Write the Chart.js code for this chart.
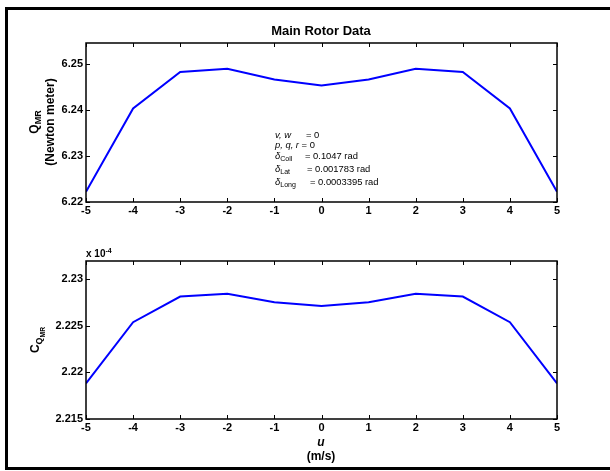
<!DOCTYPE html>
<html>
<head>
<meta charset="utf-8">
<script src="https://cdn.jsdelivr.net/npm/chart.js@4.4.1/dist/chart.umd.min.js"></script>
<style>
body{margin:0;background:#fff;width:610px;height:471px;overflow:hidden;position:relative;font-family:"Liberation Sans",Arial,sans-serif;}
#frame{position:absolute;left:5px;top:7px;width:620px;height:457px;border:3px solid #000;}
canvas{position:absolute;left:0;}
.txt{position:absolute;white-space:nowrap;color:#000;line-height:1;}
.c{transform:translate(-50%,-50%);}
.rot{transform:translate(-50%,-50%) rotate(-90deg);}
.b{font-weight:bold;}
.note{font-size:9.4px;line-height:1;}
sub{font-size:75%;vertical-align:-0.35em;line-height:0;}
sup{font-size:70%;vertical-align:0.6em;line-height:0;}
</style>
</head>
<body>
<div id="frame"></div>
<canvas id="top_chart" width="610" height="230" style="top:0px"></canvas>
<canvas id="bottom_chart" width="610" height="231" style="top:240px"></canvas>

<div class="txt c b" style="left:321px;top:30px;font-size:13px">Main Rotor Data</div>
<div class="txt rot b" style="left:34px;top:122px;font-size:12px">Q<sub>MR</sub></div>
<div class="txt rot b" style="left:50px;top:122px;font-size:12px">(Newton meter)</div>
<div class="txt rot b" style="left:36px;top:340px;font-size:12px">C<sub>Q<sub>MR</sub></sub></div>
<div class="txt b" style="left:86px;top:249px;font-size:10px">x 10<sup>-4</sup></div>
<div class="txt c b" style="left:321px;top:442px;font-size:12px"><i>u</i></div>
<div class="txt c b" style="left:321px;top:456px;font-size:12px">(m/s)</div>

<div class="txt note" style="left:275px;top:130px"><i>v, w</i></div>
<div class="txt note" style="left:306px;top:130px">= 0</div>
<div class="txt note" style="left:275px;top:140px"><i>p, q, r</i> = 0</div>
<div class="txt note" style="left:275px;top:151px"><i>&delta;</i><sub>Coll</sub></div>
<div class="txt note" style="left:305px;top:151px">= 0.1047 rad</div>
<div class="txt note" style="left:275px;top:164px"><i>&delta;</i><sub>Lat</sub></div>
<div class="txt note" style="left:307px;top:164px">= 0.001783 rad</div>
<div class="txt note" style="left:275px;top:177px"><i>&delta;</i><sub>Long</sub></div>
<div class="txt note" style="left:310px;top:177px">= 0.0003395 rad</div>

<script>
// forward speed u (m/s)
const uValues = [-5, -4, -3, -2, -1, 0, 1, 2, 3, 4, 5];
// main rotor torque (N m)
const qmrValues = [6.2222, 6.2403, 6.2482, 6.2489, 6.2466, 6.2453, 6.2466, 6.2489, 6.2482, 6.2403, 6.2222];
// torque coefficient, in units of 1e-4
const cqmrValues = [2.2188, 2.22535, 2.2281, 2.2284, 2.2275, 2.2271, 2.2275, 2.2284, 2.2281, 2.22535, 2.2188];

const qmrTicks = [6.22, 6.23, 6.24, 6.25];
const cqmrTicks = [2.215, 2.22, 2.225, 2.23];

const tickFont = {family: '"Liberation Sans", Arial, sans-serif', size: 11, weight: 'bold'};

// matlab style box with ticks pointing inside
const innerTicks = {
  id: 'innerTicks',
  afterDraw(chart) {
    const ctx = chart.ctx;
    const a = chart.chartArea;
    const x = chart.scales.x, y = chart.scales.y;
    ctx.save();
    ctx.strokeStyle = '#000';
    ctx.lineWidth = 1.5;
    ctx.strokeRect(a.left, a.top, a.right - a.left, a.bottom - a.top);
    ctx.lineWidth = 1;
    ctx.beginPath();
    x.ticks.forEach(t => {
      const px = Math.round(x.getPixelForValue(t.value)) + 0.5;
      ctx.moveTo(px, a.bottom); ctx.lineTo(px, a.bottom - 4);
      ctx.moveTo(px, a.top); ctx.lineTo(px, a.top + 4);
    });
    y.ticks.forEach(t => {
      const py = Math.round(y.getPixelForValue(t.value)) + 0.5;
      ctx.moveTo(a.left, py); ctx.lineTo(a.left + 4, py);
      ctx.moveTo(a.right, py); ctx.lineTo(a.right - 4, py);
    });
    ctx.stroke();
    ctx.restore();
  }
};

function makeChart(id, values, tickList, yMax, padTop, padBottom, fmt) {
  const pts = uValues.map((u, i) => ({x: u, y: values[i]}));
  return new Chart(document.getElementById(id), {
    type: 'line',
    data: {datasets: [{data: pts, borderColor: '#0000ff', borderWidth: 2, pointRadius: 0, tension: 0, fill: false}]},
    options: {
      responsive: false,
      animation: false,
      layout: {padding: {left: 46, right: 53, top: padTop, bottom: padBottom}},
      plugins: {legend: {display: false}, tooltip: {enabled: false}},
      scales: {
        x: {
          type: 'linear', min: uValues[0], max: uValues[uValues.length - 1],
          grid: {display: false, drawTicks: false}, border: {display: false},
          ticks: {stepSize: 1, color: '#000', font: tickFont, padding: 2, maxRotation: 0},
          afterFit: s => { s.height = 18; }
        },
        y: {
          min: tickList[0], max: yMax,
          grid: {display: false, drawTicks: false}, border: {display: false},
          afterBuildTicks: s => { s.ticks = tickList.map(v => ({value: v})); },
          ticks: {color: '#000', font: tickFont, padding: 3, callback: fmt},
          afterFit: s => { s.width = 40; }
        }
      }
    },
    plugins: [innerTicks]
  });
}

makeChart('top_chart', qmrValues, qmrTicks, 6.2545, 43, 10, v => v.toFixed(2));
makeChart('bottom_chart', cqmrValues, cqmrTicks, 2.2319, 21, 34, v => String(parseFloat(v.toFixed(3))));
</script>
</body>
</html>
